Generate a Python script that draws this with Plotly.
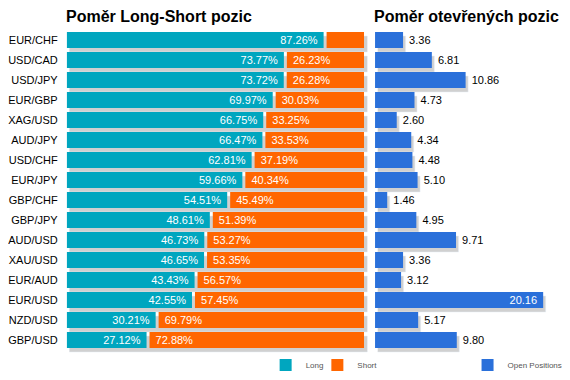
import plotly.graph_objects as go

pairs = ["EUR/CHF", "USD/CAD", "USD/JPY", "EUR/GBP", "XAG/USD", "AUD/JPY", "USD/CHF", "EUR/JPY",
         "GBP/CHF", "GBP/JPY", "AUD/USD", "XAU/USD", "EUR/AUD", "EUR/USD", "NZD/USD", "GBP/USD"]
long_pct = [87.26, 73.77, 73.72, 69.97, 66.75, 66.47, 62.81, 59.66,
            54.51, 48.61, 46.73, 46.65, 43.43, 42.55, 30.21, 27.12]
short_pct = [12.74, 26.23, 26.28, 30.03, 33.25, 33.53, 37.19, 40.34,
             45.49, 51.39, 53.27, 53.35, 56.57, 57.45, 69.79, 72.88]
open_pos = [3.36, 6.81, 10.86, 4.73, 2.60, 4.34, 4.48, 5.10,
            1.46, 4.95, 9.71, 3.36, 3.12, 20.16, 5.17, 9.80]

C_LONG = "#00A6BF"
C_SHORT = "#FF6600"
C_OPEN = "#2A70DA"
C_SHADOW = "#D0D0D0"
FONT = "Liberation Sans, Arial, sans-serif"
NB = "\u00a0"

# page has an 8px body margin; figure sized to fill the rest of the window
OFF = 8
W, H = 570 - OFF, 380 - OFF
def px(x):
    return (x - OFF) / W
def py(y):
    return 1 - (y - OFF) / H
def py_dom(top, bottom):
    return [py(bottom), py(top)]

totals = [l + s for l, s in zip(long_pct, short_pct)]
RMAX = 22.9

fig = go.Figure()
fig.add_trace(go.Bar(y=pairs, x=totals, orientation="h", xaxis="x", yaxis="y",
                     marker=dict(color=C_SHADOW), hoverinfo="skip", showlegend=False))
fig.add_trace(go.Bar(y=pairs, x=open_pos, orientation="h", xaxis="x2", yaxis="y2",
                     marker=dict(color=C_SHADOW), hoverinfo="skip", showlegend=False))
fig.add_trace(go.Bar(y=pairs, x=long_pct, orientation="h", xaxis="x3", yaxis="y3", name="Long",
                     marker=dict(color=C_LONG, line=dict(width=0)),
                     text=[f"{v:.2f}%{NB}" for v in long_pct], textposition="inside",
                     insidetextanchor="end", textfont=dict(color="white", size=11, family=FONT),
                     legend="legend"))
fig.add_trace(go.Bar(y=pairs, x=open_pos, orientation="h", xaxis="x4", yaxis="y4", name="Open Positions",
                     marker=dict(color=C_OPEN, line=dict(width=0)),
                     text=[f"{v:.2f}{NB}" if v > 15 else f"{NB}{v:.2f}" for v in open_pos],
                     textposition=["inside" if v > 15 else "outside" for v in open_pos],
                     insidetextanchor="end",
                     insidetextfont=dict(color="white", size=11, family=FONT),
                     outsidetextfont=dict(color="black", size=11, family=FONT),
                     cliponaxis=False, legend="legend2"))
fig.add_trace(go.Bar(y=pairs, x=short_pct, base=long_pct, orientation="h", xaxis="x5", yaxis="y3", name="Short",
                     marker=dict(color=C_SHORT, line=dict(width=0)),
                     text=[f"{NB}{v:.2f}%" if v > 15 else "" for v in short_pct], textposition="inside",
                     insidetextanchor="start", textfont=dict(color="white", size=11, family=FONT),
                     legend="legend3"))

hidden = dict(visible=False, fixedrange=True)
yrange = [15.5, -0.5]
legend_font = dict(size=8, color="#555555", family=FONT)
def leg(xpix):
    return dict(orientation="h", x=px(xpix), xanchor="left", y=py(365), yanchor="middle",
                font=legend_font, bgcolor="rgba(0,0,0,0)",
                itemclick=False, itemdoubleclick=False)

fig.update_layout(
    width=W, height=H, margin=dict(l=0, r=0, t=0, b=0),
    paper_bgcolor="white", plot_bgcolor="rgba(0,0,0,0)",
    bargap=0.2, barmode="overlay",
    uniformtext=dict(minsize=11, mode="show"),
    font=dict(family=FONT, size=11, color="black"),
    xaxis=dict(domain=[px(66.5), px(366.5)], range=[0, 100], anchor="y", **hidden),
    yaxis=dict(domain=py_dom(34, 354), range=yrange, type="category", anchor="x", **hidden),
    xaxis2=dict(domain=[px(376.5), px(568.5)], range=[0, RMAX], anchor="y2", **hidden),
    yaxis2=dict(domain=py_dom(34, 354), range=yrange, type="category", anchor="x2", **hidden),
    xaxis3=dict(domain=[px(64), px(360)], range=[0, 100], anchor="y3", **hidden),
    yaxis3=dict(domain=py_dom(30, 350), range=yrange, type="category", anchor="x3",
                showgrid=False, zeroline=False, showline=False, ticks="", ticklabelstandoff=8,
                tickfont=dict(size=11, color="black", family=FONT), fixedrange=True),
    xaxis4=dict(domain=[px(374), px(566)], range=[0, RMAX], anchor="y4", **hidden),
    yaxis4=dict(domain=py_dom(30, 350), range=yrange, type="category", anchor="x4", **hidden),
    xaxis5=dict(domain=[px(67), px(363)], range=[0, 100], anchor="y3", **hidden),
    legend=leg(264),
    legend3=leg(316),
    legend2=leg(467),
    annotations=[
        dict(text="<b>Poměr Long-Short pozic</b>", x=px(61), y=py(17), xref="paper", yref="paper",
             xanchor="left", yanchor="middle", showarrow=False,
             font=dict(size=16, color="black", family=FONT)),
        dict(text="<b>Poměr otevřených pozic</b>", x=px(371), y=py(17), xref="paper", yref="paper",
             xanchor="left", yanchor="middle", showarrow=False,
             font=dict(size=16, color="black", family=FONT)),
    ],
)

fig.write_html("out.html", config={"displayModeBar": False})
